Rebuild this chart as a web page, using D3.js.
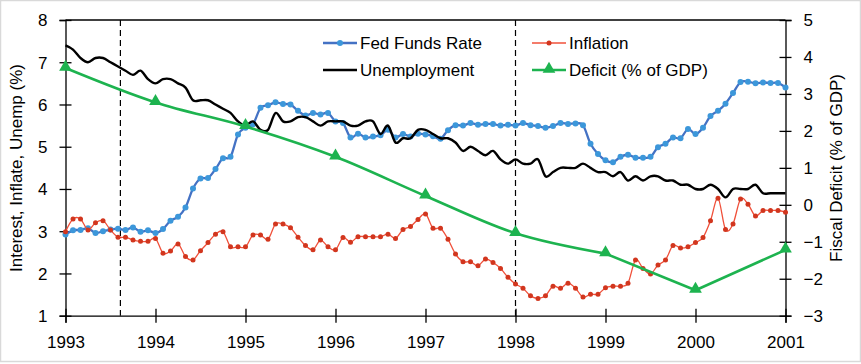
<!DOCTYPE html>
<html><head><meta charset="utf-8">
<script src="https://cdn.jsdelivr.net/npm/d3@7"></script>
<style>
body{margin:0;background:#fff;}
svg{display:block;font-family:"Liberation Sans",Arial,sans-serif;}
</style></head>
<body>
<svg id="chart" width="861" height="364"></svg>
<script>
// Monthly series, Dec 1992 .. Dec 2000 (plotted at month-end: 1993 + i/12)
const startYear = 1993;
const fedFunds = [2.92,
 3.02,3.03,3.07,2.96,3.00,3.04,3.06,3.03,3.09,2.99,3.02,2.96,
 3.05,3.25,3.34,3.56,4.01,4.25,4.26,4.47,4.73,4.76,5.29,5.45,
 5.53,5.92,5.98,6.05,6.01,6.00,5.85,5.74,5.80,5.76,5.80,5.60,
 5.56,5.22,5.31,5.22,5.24,5.27,5.40,5.22,5.30,5.24,5.31,5.29,
 5.25,5.19,5.39,5.51,5.50,5.56,5.52,5.54,5.54,5.50,5.52,5.50,
 5.56,5.51,5.49,5.45,5.49,5.56,5.54,5.55,5.51,5.07,4.83,4.68,
 4.63,4.76,4.81,4.74,4.74,4.76,4.99,5.07,5.22,5.20,5.42,5.30,
 5.45,5.73,5.85,6.02,6.27,6.53,6.54,6.50,6.52,6.51,6.51,6.40];
const inflation = [2.99,
 3.29,3.29,3.03,3.20,3.25,3.03,2.86,2.86,2.79,2.76,2.76,2.83,
 2.48,2.53,2.70,2.40,2.32,2.54,2.73,2.93,2.99,2.63,2.63,2.63,
 2.91,2.91,2.81,3.17,3.17,3.08,2.86,2.66,2.56,2.79,2.63,2.56,
 2.85,2.74,2.87,2.87,2.87,2.87,2.93,2.83,3.04,3.11,3.28,3.41,
 3.07,3.07,2.81,2.46,2.28,2.28,2.18,2.34,2.26,2.12,1.91,1.75,
 1.65,1.47,1.41,1.47,1.70,1.65,1.77,1.65,1.44,1.51,1.51,1.66,
 1.70,1.70,1.77,2.32,2.12,1.99,2.20,2.32,2.66,2.60,2.63,2.73,
 2.85,3.25,3.78,3.04,3.17,3.76,3.64,3.36,3.49,3.49,3.49,3.45];
const unemployment = [7.4,
 7.3,7.1,7.0,7.1,7.1,7.0,6.9,6.8,6.7,6.8,6.6,6.5,
 6.6,6.6,6.5,6.4,6.1,6.1,6.1,6.0,5.9,5.8,5.6,5.5,
 5.6,5.4,5.4,5.8,5.6,5.6,5.7,5.7,5.6,5.5,5.6,5.6,
 5.6,5.5,5.5,5.6,5.6,5.3,5.5,5.1,5.2,5.2,5.4,5.4,
 5.3,5.2,5.2,5.1,4.9,5.0,4.9,4.8,4.9,4.7,4.6,4.7,
 4.6,4.6,4.7,4.3,4.4,4.5,4.5,4.5,4.6,4.5,4.4,4.4,
 4.3,4.4,4.2,4.3,4.2,4.3,4.3,4.2,4.2,4.1,4.1,4.0,
 4.0,4.1,4.0,3.8,4.0,4.0,4.0,4.1,3.9,3.9,3.9,3.9];
// Annual deficit (% of GDP), right axis
const deficitYears = [1993,1994,1995,1996,1997,1998,1999,2000,2001];
const deficit = [3.7,2.77,2.12,1.3,0.24,-0.77,-1.32,-2.31,-1.22];
const xTicks = [1993,1994,1995,1996,1997,1998,1999,2000,2001];
const leftTicks = [1,2,3,4,5,6,7,8];
const rightTicks = [-3,-2,-1,0,1,2,3,4,5];
const eventLines = [1993.61, 1998.0];
const legendItems = ["Fed Funds Rate","Inflation","Unemployment","Deficit (% of GDP)"];

const C = {blueLine:"#4472C4", blueMark:"#3C97DA", redLine:"#F0503A", redMark:"#D2361E",
           black:"#000", green:"#1DB34F"};

const svg = d3.select("#chart");
const W = 861, H = 364;
const L = 65.5, R = 785.5, T = 20, B = 315.7;

// outer frame
svg.append("rect").attr("x",0.5).attr("y",0.5).attr("width",W-1).attr("height",H-3)
  .attr("fill","#fff").attr("stroke","#d9d9d9").attr("stroke-width",1.5);

const x = d3.scaleLinear().domain([1993,2001]).range([L,R]);
const yL = d3.scaleLinear().domain([1,8]).range([B,T]);
const yR = d3.scaleLinear().domain([-3,5]).range([B,T]);

const tx = i => startYear + i/12;

// top border line
svg.append("line").attr("x1",L).attr("x2",R).attr("y1",yL(8)).attr("y2",yL(8))
  .attr("stroke","#000").attr("stroke-width",1.3);

// axes
const fs = 17;
const axL = svg.append("g").attr("transform",`translate(${L},0)`)
  .call(d3.axisLeft(yL).tickValues(leftTicks).tickSize(6).tickFormat(d3.format("d")));
const axR = svg.append("g").attr("transform",`translate(${R},0)`)
  .call(d3.axisRight(yR).tickValues(rightTicks).tickSize(6).tickFormat(d3.format("d")));
const axB = svg.append("g").attr("transform",`translate(0,${B})`)
  .call(d3.axisBottom(x).tickValues(xTicks).tickSize(7).tickFormat(d3.format("d")));
[axL,axR,axB].forEach(g=>{
  g.select(".domain").attr("stroke","#000").attr("stroke-width",1.3);
  g.selectAll(".tick line").attr("stroke","#000").attr("stroke-width",1.3);
  g.selectAll("text").attr("font-size",fs).attr("fill","#000")
    .attr("font-family","Liberation Sans, Arial, sans-serif");
});
// cross ticks (extend on both sides)
axL.selectAll(".tick line").attr("x1",6).attr("x2",-6);
axL.selectAll(".tick text").attr("x",-18).attr("dy","0.35em");
axR.selectAll(".tick line").attr("x1",-6).attr("x2",6);
axR.selectAll(".tick text").attr("x",18).attr("dy","0.35em");
axB.selectAll(".tick line").attr("y1",-7).attr("y2",7);
axB.selectAll(".tick text").attr("y",20).attr("dy","0.71em");

// axis titles
svg.append("text").attr("transform",`translate(22,168) rotate(-90)`)
  .attr("text-anchor","middle").attr("font-size",fs).text("Interest, Inflate, Unemp (%)");
svg.append("text").attr("transform",`translate(842,168) rotate(-90)`)
  .attr("text-anchor","middle").attr("font-size",fs).text("Fiscal Deficit (% of GDP)");

// event dashed lines
svg.selectAll(".evt").data(eventLines).join("line")
  .attr("x1",d=>x(d)).attr("x2",d=>x(d)).attr("y1",T).attr("y2",B)
  .attr("stroke","#000").attr("stroke-width",1.2).attr("stroke-dasharray","6,4");

const curve = d3.curveCardinal.tension(0);
const lineL = d3.line().x((d,i)=>x(tx(i))).y(d=>yL(d)).curve(curve);

// Fed funds
svg.append("path").attr("d",lineL(fedFunds)).attr("fill","none")
  .attr("stroke",C.blueLine).attr("stroke-width",2.3);
svg.append("g").selectAll("circle").data(fedFunds).join("circle")
  .attr("cx",(d,i)=>x(tx(i))).attr("cy",d=>yL(d)).attr("r",3).attr("fill",C.blueMark);

// Inflation
svg.append("path").attr("d",lineL(inflation)).attr("fill","none")
  .attr("stroke",C.redLine).attr("stroke-width",1.3);
svg.append("g").selectAll("circle").data(inflation).join("circle")
  .attr("cx",(d,i)=>x(tx(i))).attr("cy",d=>yL(d)).attr("r",2.5).attr("fill",C.redMark);

// Unemployment
svg.append("path").attr("d",lineL(unemployment)).attr("fill","none")
  .attr("stroke",C.black).attr("stroke-width",2.4);

// Deficit: smoothed through 1999, straight segments after
const defPts = deficit.map((d,i)=>[x(deficitYears[i]), yR(d)]);
const splitIdx = deficitYears.indexOf(1999);
const lineSmooth = d3.line().curve(curve);
const lineStraight = d3.line();
svg.append("path").attr("d",lineSmooth(defPts.slice(0,splitIdx+1))).attr("fill","none")
  .attr("stroke",C.green).attr("stroke-width",2.6);
svg.append("path").attr("d",lineStraight(defPts.slice(splitIdx))).attr("fill","none")
  .attr("stroke",C.green).attr("stroke-width",2.6).attr("stroke-linejoin","round");
const tri = d3.symbol().type(d3.symbolTriangle).size(70);
svg.append("g").selectAll("path").data(defPts).join("path")
  .attr("d",tri).attr("transform",d=>`translate(${d[0]},${d[1]-1})`)
  .attr("fill",C.green);

// legend
const legPos = [[323,43],[532,43],[323,70],[532,70]];
const lg = svg.append("g");
legendItems.forEach((name,k)=>{
  const [lx,ly] = legPos[k];
  const g = lg.append("g").attr("transform",`translate(${lx},${ly})`);
  const col = [C.blueLine,C.redLine,C.black,C.green][k];
  const sw = [2.3,1.3,2.4,2.6][k];
  g.append("line").attr("x1",0).attr("x2",34).attr("stroke",col).attr("stroke-width",sw);
  if(k===0) g.append("circle").attr("cx",17).attr("r",3).attr("fill",C.blueMark);
  if(k===1) g.append("circle").attr("cx",17).attr("r",2.5).attr("fill",C.redMark);
  if(k===3) g.append("path").attr("d",tri).attr("transform","translate(17,-1)").attr("fill",C.green);
  g.append("text").attr("x",37).attr("dy","0.35em").attr("font-size",fs).text(name);
});
</script>
</body></html>
